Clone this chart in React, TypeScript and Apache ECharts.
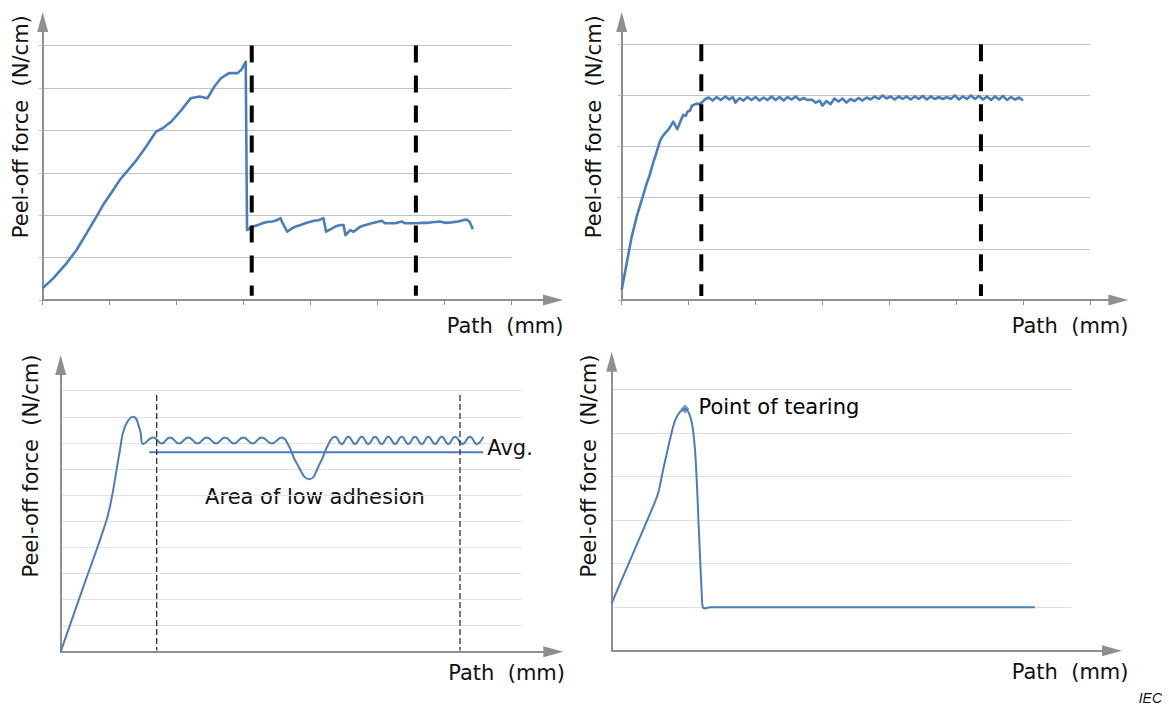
import React, { useEffect, useRef } from "react";
import * as echarts from "echarts";

// ---------- data (x in axis units, y in gridline units) ----------
// Panel A (top-left): peel-off with initial peak then low plateau
const peelA: [number, number][] = [
  [0, 0.28], [0.157, 0.51], [0.357, 0.87], [0.505, 1.18], [0.654, 1.57], [0.8, 1.96], [0.9, 2.24],
  [1.05, 2.59], [1.15, 2.83], [1.3, 3.11], [1.4, 3.3], [1.545, 3.62], [1.69, 3.97], [1.79, 4.05],
  [1.92, 4.21], [2.07, 4.48], [2.21, 4.76], [2.34, 4.8], [2.46, 4.76], [2.56, 5.03], [2.66, 5.23],
  [2.78, 5.35], [2.91, 5.35], [2.97, 5.44], [3.03, 5.62], [3.05, 1.65], [3.13, 1.73], [3.2, 1.76],
  [3.28, 1.81], [3.35, 1.84], [3.43, 1.85], [3.49, 1.88], [3.55, 1.93], [3.57, 1.85], [3.65, 1.61],
  [3.71, 1.68], [3.77, 1.73], [3.85, 1.77], [3.92, 1.81], [3.98, 1.84], [4.05, 1.87], [4.12, 1.88],
  [4.19, 1.93], [4.23, 1.61], [4.32, 1.69], [4.38, 1.74], [4.44, 1.77], [4.49, 1.77], [4.52, 1.53],
  [4.59, 1.65], [4.64, 1.61], [4.74, 1.73], [4.82, 1.77], [4.91, 1.81], [4.99, 1.84], [5.06, 1.87],
  [5.11, 1.81], [5.26, 1.81], [5.36, 1.85], [5.41, 1.81], [5.56, 1.81], [5.66, 1.82], [5.75, 1.82],
  [5.85, 1.84], [5.93, 1.85], [6.0, 1.82], [6.1, 1.83], [6.2, 1.85], [6.32, 1.9], [6.37, 1.85],
  [6.42, 1.67],
];
const markersA = [3.12, 5.57];
const markerSpanA = [6.0, 0.1];

// Panel B (top-right): rise to steady plateau
const peelB: [number, number][] = [
  [0, 0.2], [0.075, 0.72], [0.15, 1.24], [0.224, 1.63], [0.3, 1.96], [0.374, 2.28], [0.42, 2.45],
  [0.47, 2.68], [0.52, 2.88], [0.57, 3.1], [0.61, 3.2], [0.647, 3.26], [0.697, 3.33], [0.74, 3.42],
  [0.77, 3.49], [0.83, 3.34], [0.88, 3.5], [0.92, 3.62], [0.96, 3.6], [0.98, 3.68], [1.02, 3.7],
  [1.05, 3.8], [1.12, 3.84], [1.16, 3.83], [1.196, 3.86], [1.24, 3.92],
  [1.3, 3.96], [1.36, 3.9], [1.42, 3.97], [1.48, 3.91], [1.55, 3.98], [1.61, 3.92], [1.66, 3.97],
  [1.7, 3.86], [1.76, 3.95], [1.82, 3.9], [1.88, 3.97], [1.94, 3.91], [2.0, 3.97], [2.06, 3.9],
  [2.12, 3.96], [2.18, 3.91], [2.24, 3.98], [2.3, 3.91], [2.36, 3.97], [2.42, 3.9], [2.48, 3.97],
  [2.54, 3.92], [2.6, 3.98], [2.66, 3.91], [2.72, 3.95], [2.78, 3.91], [2.84, 3.92], [2.9, 3.86],
  [2.96, 3.9], [3.0, 3.8], [3.06, 3.89], [3.12, 3.83], [3.18, 3.94], [3.24, 3.88], [3.3, 3.94],
  [3.36, 3.86], [3.42, 3.93], [3.48, 3.89], [3.54, 3.95], [3.6, 3.9], [3.66, 3.96], [3.72, 3.92],
  [3.78, 3.98], [3.84, 3.93], [3.9, 4.0], [3.96, 3.94], [4.02, 3.98], [4.08, 3.92], [4.14, 3.98],
  [4.2, 3.93], [4.26, 3.98], [4.32, 3.92], [4.38, 3.98], [4.44, 3.93], [4.5, 3.99], [4.56, 3.92],
  [4.62, 3.98], [4.68, 3.93], [4.74, 3.97], [4.8, 3.93], [4.86, 3.97], [4.92, 3.93], [4.98, 4.0],
  [5.04, 3.92], [5.1, 3.98], [5.16, 3.93], [5.22, 4.0], [5.28, 3.93], [5.34, 3.99], [5.4, 3.92],
  [5.46, 3.98], [5.52, 3.91], [5.58, 3.98], [5.64, 3.92], [5.7, 3.99], [5.76, 3.91], [5.82, 3.97],
  [5.88, 3.92], [5.94, 3.96], [6.0, 3.9],
];
const markersB = [1.19, 5.37];
const markerSpanB = [5.0, 0.08];

// Panel C (bottom-left): wavy plateau with area of low adhesion
const peelC: [number, number][] = [
  [0, 0], [4.6, 2.33], [9.24, 4.66], [10.69, 5.56], [12.86, 7.73], [13.95, 8.62], [15.75, 9.0],
  [17.2, 8.49], [17.92, 7.96], [20.09, 8.21], [21.91, 7.98], [23.71, 8.21], [25.66, 7.98],
  [27.68, 8.21], [29.67, 7.98], [31.67, 8.21], [33.69, 7.98], [35.64, 8.21], [37.59, 7.98],
  [39.61, 8.21], [41.61, 7.98], [43.6, 8.21], [45.77, 7.98], [47.94, 8.21], [49.3, 7.95],
  [51.19, 7.22], [53.93, 6.61], [56.25, 7.22], [58.2, 8.0], [59.5, 8.24], [60.95, 7.96],
  [62.39, 8.24], [63.84, 7.96], [65.29, 8.24], [66.72, 7.96], [68.18, 8.24], [69.63, 7.96],
  [71.06, 8.24], [72.52, 7.96], [73.97, 8.24], [75.4, 7.96], [76.85, 8.24], [78.31, 7.96],
  [79.74, 8.24], [81.19, 7.96], [82.65, 8.24], [84.08, 7.96], [85.53, 8.24], [87.16, 7.96],
  [88.78, 8.24], [90.24, 7.96], [91.67, 8.24],
];
const avgC: [number, number][] = [[19.22, 7.64], [91.67, 7.64]];
const markersC = [20.82, 86.61];
const markerSpanC = [9.84, 0.05];

// Panel D (bottom-right): tearing
const peelD: [number, number][] = [
  [0, 1.09], [4.5, 2.2], [9.04, 3.32], [10.13, 3.63], [11.2, 4.16], [12.67, 4.85], [13.76, 5.28],
  [14.85, 5.48], [15.93, 5.55], [16.88, 5.43], [17.6, 5.12], [18.1, 4.62], [18.48, 3.93],
  [18.85, 3.01], [19.2, 2.17], [19.57, 1.32], [19.78, 1.01], [20.28, 0.97], [21.37, 1.0],
  [92.0, 1.0],
];
const tearIndex = 8;

// ---------- styling ----------
const BLUE = "#4a7ebb";
const AXIS = "#8f8f8f";
const TEXT = "#111111";
const FONT = "DejaVu Sans";
const FS = 21;

type Panel = {
  grid: { left: number; top: number; width: number; height: number };
  frame: { left: number; top: number; width: number; height: number };
  xMax: number;
  xInt: number;
  yMax: number;
  ticks: boolean;
  split: string;
};

const panels: Panel[] = [
  { grid: { left: 42.7, top: 45.6, width: 469, height: 254.4 }, frame: { left: 42.7, top: 22, width: 510.3, height: 278 }, xMax: 7, xInt: 1, yMax: 6, ticks: true, split: "#c2c2c2" },
  { grid: { left: 621.7, top: 44.3, width: 468.3, height: 255.7 }, frame: { left: 621.7, top: 22, width: 496.6, height: 278 }, xMax: 7, xInt: 1, yMax: 5, ticks: true, split: "#c2c2c2" },
  { grid: { left: 60.7, top: 390.7, width: 461, height: 261 }, frame: { left: 60.7, top: 365, width: 492.6, height: 286.7 }, xMax: 100, xInt: 10, yMax: 10, ticks: false, split: "#e2e2e2" },
  { grid: { left: 611.7, top: 389.3, width: 460, height: 261.4 }, frame: { left: 611.7, top: 361.7, width: 500.3, height: 289 }, xMax: 100, xInt: 10, yMax: 6, ticks: false, split: "#dedede" },
];

function buildOption() {
  const grid: any[] = [];
  const xAxis: any[] = [];
  const yAxis: any[] = [];
  panels.forEach((p, i) => {
    grid.push({ ...p.grid, containLabel: false });
    xAxis.push({
      type: "value", gridIndex: i, min: 0, max: p.xMax, interval: p.xInt,
      axisLine: { show: false },
      axisTick: { show: p.ticks, length: 5, lineStyle: { color: AXIS, width: 1 } },
      axisLabel: { show: false }, splitLine: { show: false },
    });
    yAxis.push({
      type: "value", gridIndex: i, min: 0, max: p.yMax, interval: 1,
      axisLine: { show: false },
      axisTick: { show: p.ticks, length: 4, lineStyle: { color: p.split, width: 1 } },
      axisLabel: { show: false },
      splitLine: { show: true, lineStyle: { color: p.split, width: 1.2 } },
    });
  });
  panels.forEach((p, i) => {
    grid.push({ ...p.frame, containLabel: false });
    const arrowAxis = {
      type: "value", gridIndex: 4 + i, min: 0, max: 1,
      axisLine: { show: true, onZero: false, symbol: ["none", "triangle"], symbolSize: [11, 20], lineStyle: { color: AXIS, width: 2 } },
      axisTick: { show: false }, axisLabel: { show: false }, splitLine: { show: false },
    };
    xAxis.push({ ...arrowAxis });
    yAxis.push({ ...arrowAxis });
  });

  const curve = (idx: number, data: [number, number][], width: number, smooth: number | boolean) => ({
    type: "line", xAxisIndex: idx, yAxisIndex: idx, data, showSymbol: false, symbol: "none",
    smooth, lineStyle: { color: BLUE, width, join: "round" }, z: 3, silent: true,
  });
  const dashes = (idx: number, xs: number[], span: number[], color: string, width: number, dash: number[]) =>
    xs.map((x) => ({
      type: "line", xAxisIndex: idx, yAxisIndex: idx, data: [[x, span[0]], [x, span[1]]],
      showSymbol: false, symbol: "none", lineStyle: { color, width, type: dash, cap: "butt" }, z: 4, silent: true,
    }));

  const series: any[] = [
    curve(0, peelA, 2.6, false),
    ...dashes(0, markersA, markerSpanA, "#000000", 4, [17, 13]),
    curve(1, peelB, 2.6, false),
    ...dashes(1, markersB, markerSpanB, "#000000", 4, [17, 13]),
    curve(2, peelC, 2, 0.5),
    {
      type: "line", xAxisIndex: 2, yAxisIndex: 2, data: avgC, showSymbol: false, symbol: "none",
      lineStyle: { color: BLUE, width: 2 }, z: 3, silent: true,
      endLabel: { show: true, formatter: "Avg.", distance: 4, offset: [0, -4], color: TEXT, fontSize: FS, fontFamily: FONT },
    },
    ...dashes(2, markersC, markerSpanC, "#333333", 1.3, [6, 3]),
    curve(3, peelD, 2, 0.3),
    {
      type: "scatter", xAxisIndex: 3, yAxisIndex: 3, data: [peelD[tearIndex]], symbol: "diamond", symbolSize: 9,
      itemStyle: { color: BLUE }, z: 5, silent: true,
      label: { show: true, position: "right", distance: 9, offset: [0, -1.5], formatter: "Point of tearing", color: "#000000", fontSize: FS, fontFamily: FONT, opacity: 1 },
    },
  ];

  const txt = (text: string, x: number, y: number, align: string, rot = 0, extra: any = {}) => ({
    type: "text", x, y, rotation: rot, silent: true,
    style: { text, fill: TEXT, fontSize: FS, fontFamily: FONT, align, textAlign: align, verticalAlign: "middle", textVerticalAlign: "middle", ...extra },
  });
  const ylab = "Peel-off force  (N/cm)";
  const xlab = "Path  (mm)";
  const graphic = [
    txt(ylab, 20.5, 126.7, "center", Math.PI / 2),
    txt(ylab, 594, 126.7, "center", Math.PI / 2),
    txt(ylab, 31, 466, "center", Math.PI / 2),
    txt(ylab, 589, 466, "center", Math.PI / 2),
    txt(xlab, 563.5, 326, "right"),
    txt(xlab, 1128.5, 326, "right"),
    txt(xlab, 565, 672.5, "right"),
    txt(xlab, 1128.5, 671.5, "right"),
    txt("Area of low adhesion", 315, 497, "center"),
    txt("IEC", 1162, 698, "right", 0, { fontSize: 14, fontFamily: "Liberation Sans", fontStyle: "italic" }),
  ];

  return { animation: false, grid, xAxis, yAxis, series, graphic };
}

export default function App() {
  const ref = useRef<HTMLDivElement>(null);
  useEffect(() => {
    if (!ref.current) return;
    const chart = echarts.init(ref.current, undefined, { renderer: "svg" });
    chart.setOption(buildOption() as any);
    return () => chart.dispose();
  }, []);
  return (
    <div
      ref={ref}
      style={{ position: "absolute", left: 0, top: 0, width: 1169, height: 707, background: "#ffffff" }}
    />
  );
}
